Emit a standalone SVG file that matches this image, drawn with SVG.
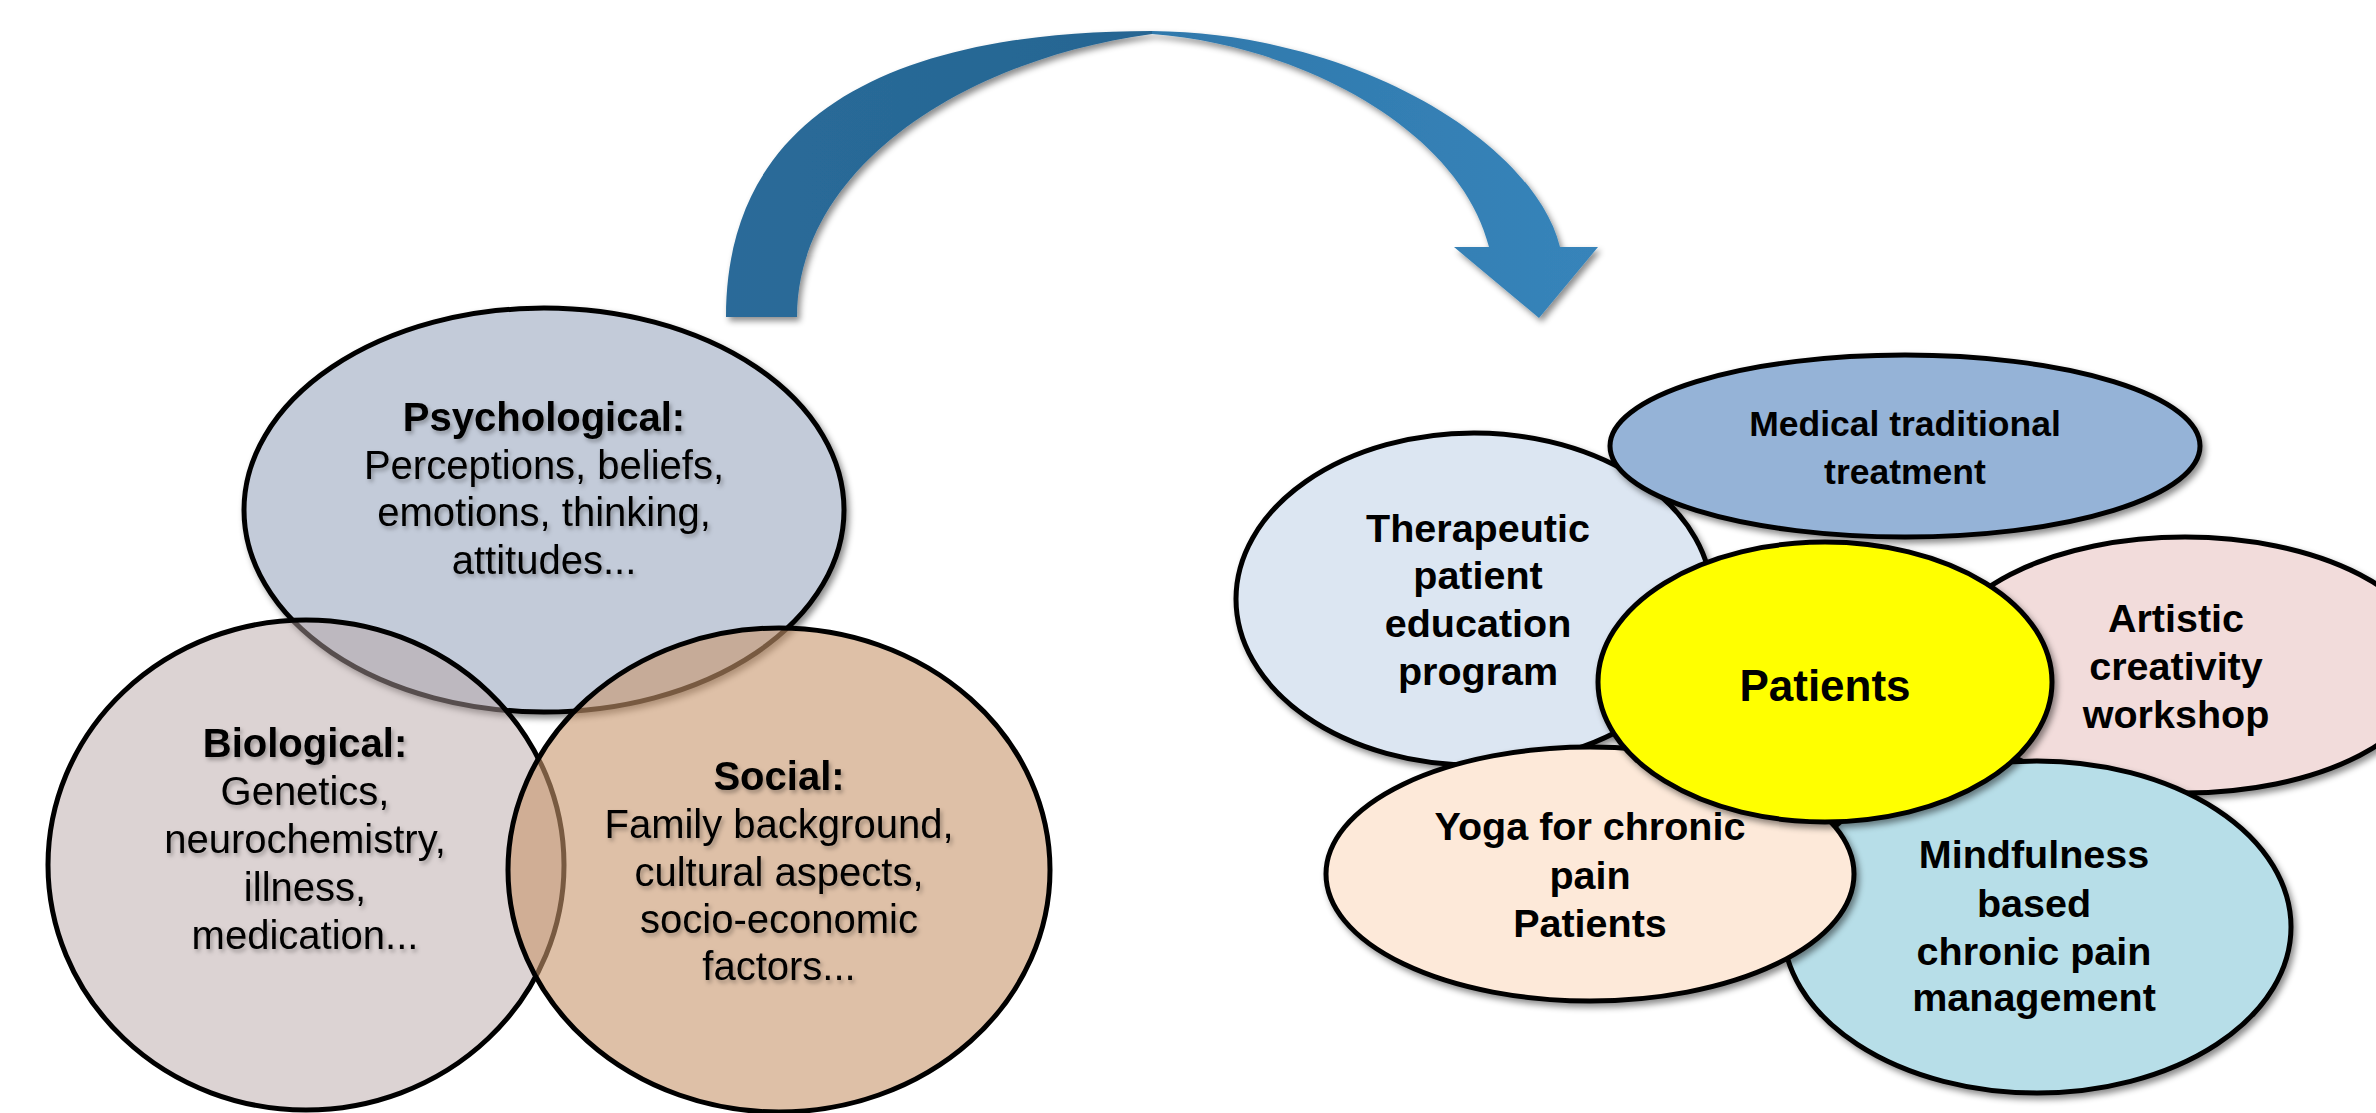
<svg xmlns="http://www.w3.org/2000/svg" width="2376" height="1113" viewBox="0 0 2376 1113">
  <defs>
    <filter id="shadow" x="-10%" y="-10%" width="120%" height="125%">
      <feDropShadow dx="3" dy="4" stdDeviation="3" flood-color="#000" flood-opacity="0.45"/>
    </filter>
    <filter id="tshadow" x="-10%" y="-10%" width="120%" height="130%">
      <feDropShadow dx="2" dy="3" stdDeviation="2" flood-color="#000" flood-opacity="0.3"/>
    </filter>
    <linearGradient id="arrowL" x1="726" y1="0" x2="1152" y2="0" gradientUnits="userSpaceOnUse">
      <stop offset="0" stop-color="#2a6b99"/>
      <stop offset="1" stop-color="#256592"/>
    </linearGradient>
    <linearGradient id="arrowR" x1="1152" y1="0" x2="1598" y2="0" gradientUnits="userSpaceOnUse">
      <stop offset="0" stop-color="#2f78ab"/>
      <stop offset="1" stop-color="#3784ba"/>
    </linearGradient>
  </defs>
  <style>
    .node { stroke: #000; stroke-width: 5; }
    .lt { font-family: "Liberation Sans", Arial, sans-serif; font-size: 40px; fill: #000; text-anchor: middle; }
    .lt .h { font-weight: bold; }
    .rt { font-family: "Liberation Sans", Arial, sans-serif; font-weight: bold; font-size: 39.5px; fill: #000; text-anchor: middle; }
  </style>

  <g id="connectors">
    <g id="curved-arrow" filter="url(#shadow)">
      <path d="M726,317 C726,110 900,31 1152,31 L1152,34 C960,60 797,170 797,317 Z" fill="url(#arrowL)"/>
      <path d="M1152,31 C1360,33 1535,145 1560,247 L1598,247 L1539,318 L1454,247 L1489,247 C1460,130 1300,45 1152,34 Z" fill="url(#arrowR)"/>
    </g>
  </g>

  <g id="psychological">
    <ellipse class="node" cx="544" cy="510" rx="300" ry="202" fill="#c3cbd9" filter="url(#shadow)"/>
  </g>
  <g id="biological">
    <ellipse class="node" cx="306" cy="865" rx="258" ry="245" fill="#b6a4a3" fill-opacity="0.48"/>
  </g>
  <g id="social">
    <ellipse class="node" cx="779" cy="870" rx="271" ry="242" fill="#c8966c" fill-opacity="0.6"/>
  </g>
  <g id="left-labels" class="lt" filter="url(#tshadow)">
    <text x="544" y="431" class="h">Psychological:</text>
    <text x="544" y="479">Perceptions, beliefs,</text>
    <text x="544" y="526">emotions, thinking,</text>
    <text x="544" y="574">attitudes...</text>
    <text x="305" y="757" class="h">Biological:</text>
    <text x="305" y="805">Genetics,</text>
    <text x="305" y="853">neurochemistry,</text>
    <text x="305" y="901">illness,</text>
    <text x="305" y="949">medication...</text>
    <text x="779" y="790" class="h">Social:</text>
    <text x="779" y="838">Family background,</text>
    <text x="779" y="886">cultural aspects,</text>
    <text x="779" y="933">socio-economic</text>
    <text x="779" y="980">factors...</text>
  </g>

  <g id="therapeutic">
    <ellipse class="node" cx="1474" cy="599" rx="238" ry="166" fill="#dce6f2" filter="url(#shadow)"/>
    <text class="rt"><tspan x="1478" y="542">Therapeutic</tspan><tspan x="1478" y="589">patient</tspan><tspan x="1478" y="637">education</tspan><tspan x="1478" y="685">program</tspan></text>
  </g>
  <g id="medical">
    <ellipse class="node" cx="1905" cy="446" rx="295" ry="91" fill="#95b3d7" filter="url(#shadow)"/>
    <text class="rt" style="font-size:35.5px"><tspan x="1905" y="436">Medical traditional</tspan><tspan x="1905" y="484">treatment</tspan></text>
  </g>
  <g id="artistic">
    <ellipse class="node" cx="2185" cy="665" rx="247" ry="128" fill="#f2dcdb" filter="url(#shadow)"/>
    <text class="rt"><tspan x="2176" y="632">Artistic</tspan><tspan x="2176" y="680">creativity</tspan><tspan x="2176" y="728">workshop</tspan></text>
  </g>
  <g id="mindfulness">
    <ellipse class="node" cx="2037" cy="927" rx="254" ry="166" fill="#b7dee8" filter="url(#shadow)"/>
    <text class="rt"><tspan x="2034" y="868">Mindfulness</tspan><tspan x="2034" y="917">based</tspan><tspan x="2034" y="965">chronic pain</tspan><tspan x="2034" y="1011">management</tspan></text>
  </g>
  <g id="yoga">
    <ellipse class="node" cx="1590" cy="874" rx="264" ry="127" fill="#fde9d9" filter="url(#shadow)"/>
    <text class="rt"><tspan x="1590" y="840">Yoga for chronic</tspan><tspan x="1590" y="889">pain</tspan><tspan x="1590" y="937">Patients</tspan></text>
  </g>
  <g id="patients">
    <ellipse class="node" cx="1825" cy="682" rx="227" ry="140" fill="#ffff00" filter="url(#shadow)"/>
    <text class="rt" x="1825" y="701" style="font-size:44px">Patients</text>
  </g>
</svg>
